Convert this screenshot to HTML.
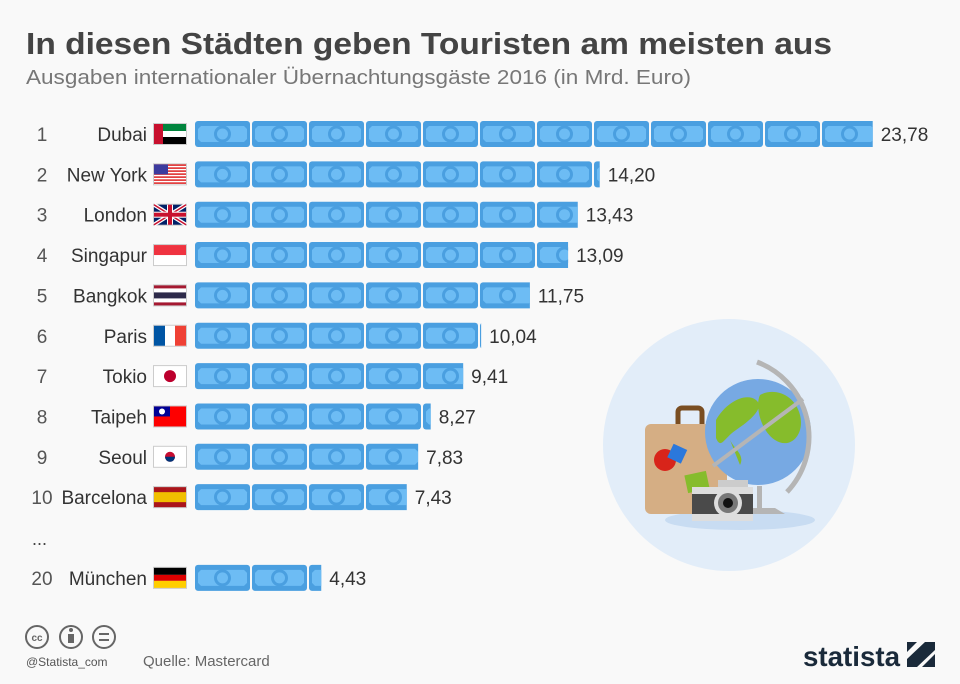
<!DOCTYPE html>
<html><head><meta charset="utf-8"><style>
html,body{margin:0;padding:0;background:#f9f9f9;}
svg{display:block;font-family:"Liberation Sans",sans-serif;}
</style></head><body>
<svg id="c" width="960" height="684" viewBox="0 0 960 684">
<text x="26" y="54" font-size="31" font-weight="bold" fill="#444" textLength="806" lengthAdjust="spacingAndGlyphs">In diesen Städten geben Touristen am meisten aus</text>
<text x="26" y="84" font-size="20" fill="#777" textLength="665" lengthAdjust="spacingAndGlyphs">Ausgaben internationaler Übernachtungsgäste 2016 (in Mrd. Euro)</text>
<g id="rows"></g>
<text x="32" y="545" font-size="18" fill="#444">...</text>
<g>
<circle cx="729" cy="445" r="126" fill="#e2edf9"/>
<ellipse cx="740" cy="520" rx="75" ry="10" fill="#c8dcf2"/>
<path d="M678 424v-12a4 4 0 0 1 4-4h16a4 4 0 0 1 4 4v12" stroke="#7a4e22" stroke-width="5" fill="none"/>
<rect x="645" y="424" width="82" height="90" rx="6" fill="#d5ae84"/>
<circle cx="665" cy="460" r="11" fill="#d8241a"/>
<rect x="670" y="446" width="15" height="15" fill="#2b78dc" transform="rotate(25 677 453)"/>
<rect x="686" y="473" width="22" height="18" fill="#86bc2c" transform="rotate(-12 697 482)"/>
<circle cx="758" cy="432" r="53" fill="#77a9e3"/>
<path d="M716 420c10-18 30-28 40-20s-8 22-20 30-15 20-20 8z M760 395c15-8 35 0 40 20s-10 35-25 25-20-35-15-45z M730 440c5 10 15 15 10 25" fill="#86bc2c"/>
<path d="M757 362a80 80 0 0 1 30 130" stroke="#b5b5b5" stroke-width="5" fill="none"/>
<line x1="713" y1="466" x2="803" y2="399" stroke="#b5b5b5" stroke-width="4"/>
<rect x="757" y="486" width="5" height="26" fill="#b5b5b5"/>
<path d="M745 514h40l-10-6h-22z" fill="#b5b5b5"/>
<rect x="718" y="480" width="30" height="10" fill="#ccc"/>
<rect x="692" y="487" width="61" height="34" fill="#ddd"/>
<rect x="692" y="494" width="61" height="20" fill="#4a4a4a"/>
<circle cx="728" cy="503" r="14" fill="#ddd"/>
<circle cx="728" cy="503" r="10" fill="#777"/>
<circle cx="728" cy="503" r="5" fill="#111"/>
</g>
<g fill="none" stroke="#666" stroke-width="2">
<circle cx="37" cy="637" r="11"/><circle cx="71" cy="637" r="11"/><circle cx="104" cy="637" r="11"/>
<text x="37" y="641" font-size="10" font-weight="bold" fill="#666" stroke="none" text-anchor="middle">cc</text>
<circle cx="71" cy="630" r="2" fill="#666" stroke="none"/><rect x="68" y="634" width="6" height="9" fill="#666" stroke="none"/>
<line x1="99" y1="634" x2="109" y2="634"/><line x1="99" y1="640" x2="109" y2="640"/>
</g>
<text x="26" y="666" font-size="12" fill="#555">@Statista_com</text>
<text x="143" y="666" font-size="15" fill="#666">Quelle: Mastercard</text>
<text x="803" y="666" font-size="28" font-weight="bold" fill="#1a2a3a" textLength="97" lengthAdjust="spacingAndGlyphs">statista</text>
<g fill="#1a2a3a">
<path d="M907 642h28v8l-18 17h-10v-8l18-17z"/>
<path d="M907 642h10l-10 10z"/>
<path d="M935 654v13h-13z"/>
</g>
</svg>
<script>
const ranks = ["1","2","3","4","5","6","7","8","9","10","20"];
const cities = ["Dubai","New York","London","Singapur","Bangkok","Paris","Tokio","Taipeh","Seoul","Barcelona","München"];
const values = [23.78,14.20,13.43,13.09,11.75,10.04,9.41,8.27,7.83,7.43,4.43];
const labels = ["23,78","14,20","13,43","13,09","11,75","10,04","9,41","8,27","7,83","7,43","4,43"];
const flags = ["ae","us","gb","sg","th","fr","jp","tw","kr","es","de"];
const rowSlots = [0,1,2,3,4,5,6,7,8,9,11];
const NS="http://www.w3.org/2000/svg";
const x0=195, billW=57, perBill=2;
const xs=v=>x0+v/perBill*billW;
const ys=i=>134+i*40.35;
const g=document.getElementById('rows');
function mk(t,a,p){const e=document.createElementNS(NS,t);for(const k in a)e.setAttribute(k,a[k]);(p||g).appendChild(e);return e;}
function flag(code,x,y,p){
 const w=32,h=20;
 mk('rect',{x:x-1,y:y-1,width:w+2,height:h+2,fill:'#ccc'},p);
 const s=(c,a,b,cc,d)=>mk('rect',{x:x+a,y:y+b,width:cc,height:d,fill:c},p);
 switch(code){
 case 'ae':s('#fff',0,0,w,h);s('#00843d',0,0,w,7);s('#000',0,13,w,7);s('#c8102e',0,0,9,h);break;
 case 'us':s('#fff',0,0,w,h);for(let k=0;k<7;k++)s('#d22',0,k*3,w,1.5);s('#3c3b9e',0,0,14,10);break;
 case 'gb':s('#012169',0,0,w,h);mk('path',{d:`M${x} ${y}L${x+w} ${y+h}M${x+w} ${y}L${x} ${y+h}`,stroke:'#fff','stroke-width':4},p);mk('path',{d:`M${x} ${y}L${x+w} ${y+h}M${x+w} ${y}L${x} ${y+h}`,stroke:'#c8102e','stroke-width':1.5},p);s('#fff',13,0,6,h);s('#fff',0,7,w,6);s('#c8102e',14,0,4,h);s('#c8102e',0,8,w,4);break;
 case 'sg':s('#fff',0,0,w,h);s('#ef3340',0,0,w,10);break;
 case 'th':s('#a51931',0,0,w,h);s('#fff',0,3,w,14);s('#2d2a4a',0,7,w,6);break;
 case 'fr':s('#fff',0,0,w,h);s('#0055a4',0,0,11,h);s('#ef4135',21,0,11,h);break;
 case 'jp':s('#fff',0,0,w,h);mk('circle',{cx:x+16,cy:y+10,r:6,fill:'#bc002d'},p);break;
 case 'tw':s('#fe0000',0,0,w,h);s('#000095',0,0,16,10);mk('circle',{cx:x+8,cy:y+5,r:3,fill:'#fff'},p);break;
 case 'kr':s('#fff',0,0,w,h);mk('circle',{cx:x+16,cy:y+10,r:5,fill:'#c60c30'},p);mk('path',{d:`M${x+11} ${y+10}a5 5 0 0 0 10 0z`,fill:'#003478'},p);break;
 case 'es':s('#aa151b',0,0,w,h);s('#f1bf00',0,5,w,10);break;
 case 'de':s('#000',0,0,w,7);s('#dd0000',0,7,w,6);s('#ffce00',0,13,w,7);break;
 }
}
values.forEach((v,i)=>{
 const y=ys(rowSlots[i]);
 const row=mk('g',{});
 
 
 const r=mk('text',{x:42,y:y+7,'font-size':19,fill:'#555','text-anchor':'middle'},row);r.textContent=ranks[i];
 
 
 const c=mk('text',{x:147,y:y+7,'font-size':19,fill:'#333','text-anchor':'end'},row);c.textContent=cities[i];
 
 
 const fg=mk('g',{},row);
 
 
 flag(flags[i],154,y-10,fg);
 const xe=xs(v);
 const cid='clip'+i;
 const cp=mk('clipPath',{id:cid},row);mk('rect',{x:x0,y:y-14,width:xe-x0,height:28},cp);
 const bars=mk('g',{'clip-path':`url(#${cid})`},row);
 
 
 const n=Math.ceil(v/perBill);
 for(let k=0;k<n;k++){
  const bx=x0+k*billW;
  mk('rect',{x:bx,y:y-13,width:55,height:26,rx:3,fill:'#4a9fe0'},bars);
  mk('path',{d:`M${bx+6} ${y-8}h43l3 3v10l-3 3h-43l-3-3v-10z`,fill:'#6dbcf4'},bars);
  mk('circle',{cx:bx+27.5,cy:y,r:7,fill:'none',stroke:'#4a9fe0','stroke-width':3},bars);
  mk('circle',{cx:bx+27.5,cy:y,r:3,fill:'#6dbcf4'},bars);
 }
 const t=mk('text',{x:xe+8,y:y+7,'font-size':19,fill:'#333'},row);t.textContent=labels[i];
 
 
});
</script>
</body></html>
